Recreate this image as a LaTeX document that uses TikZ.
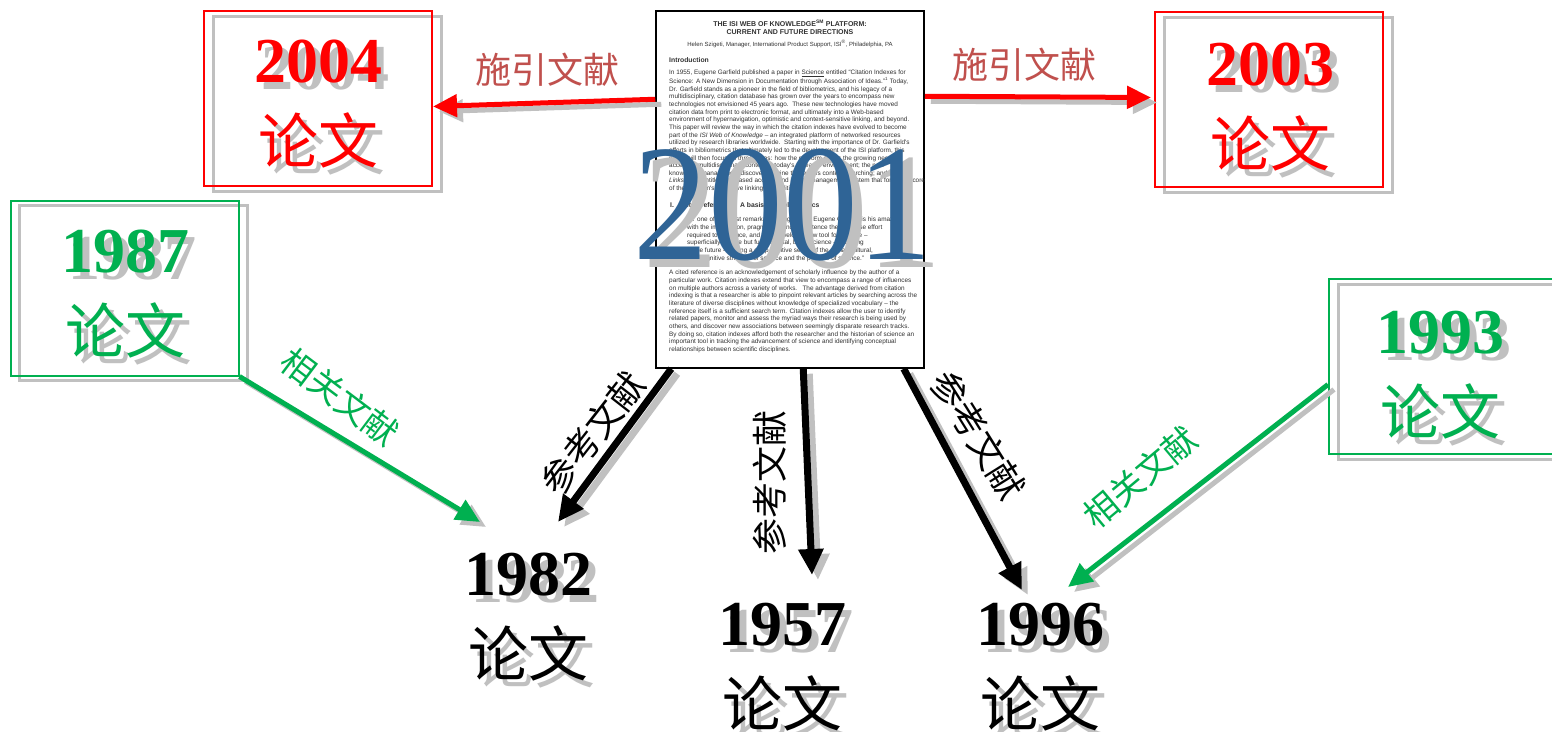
\documentclass[tikz,border=0pt]{standalone}
\usepackage{fontspec}
\setmainfont{Liberation Serif}
\newfontfamily\cjk{Noto Sans CJK SC}
\newfontfamily\docfont{Liberation Sans}
\usetikzlibrary{arrows.meta,calc}
\definecolor{paperred}{RGB}{255,0,0}
\definecolor{papergreen}{RGB}{0,176,80}
\definecolor{citered}{RGB}{192,80,77}
\definecolor{shadowgray}{RGB}{192,192,192}
\definecolor{yearblue}{RGB}{47,100,150}
\definecolor{docink}{RGB}{50,50,50}

\begin{document}
\begin{tikzpicture}[x=1pt, y=-1pt,
  paperbox/.style={draw, line width=2pt, minimum width=228pt, minimum height=175pt, inner sep=0pt},
  yearnum/.style={font=\fontsize{64}{64}\selectfont\bfseries, inner sep=0pt},
  paperword/.style={font=\cjk\fontsize{60}{60}\selectfont, inner sep=0pt},
  citelink/.style={line width=5pt, -{Triangle[length=24pt,width=22pt]}},
  refarrow/.style={line width=7pt, -{Triangle[length=26pt,width=24pt]}},
  dropped/.style={shadowgray, transform canvas={shift={(6pt,-5pt)}}},
  arrowtag/.style={font=\cjk\fontsize{36}{36}\selectfont, inner sep=0pt},
  doctext/.style={font=\docfont\fontsize{6.4}{7.65}\selectfont, docink, inner sep=0pt, align=left}]
\useasboundingbox (0,0) rectangle (1552,731);
\fill[white] (0,0) rectangle (1552,731);

% paper boxes
\foreach \n/\x/\y/\c in {2004/318/98.5/paperred, 2003/1269/99.5/paperred,
    1987/124.5/288/papergreen, 1993/1443/366.5/papergreen}{
  \node[paperbox, shadowgray, line width=3pt] (bs\n) at (\x+9,\y+5) {};
  \node[paperbox, \c] (b\n) at (\x,\y) {};
}

% years and words
\foreach \n/\x/\y/\c in {2004/318/62/paperred, 2003/1270/65/paperred,
    1987/125/252/papergreen, 1993/1440/333/papergreen,
    1982/528/575/black, 1957/782/625/black, 1996/1040/625/black}{
  \node[yearnum, shadowgray] (ys\n) at (\x+7,\y+7) {\n};
  \node[paperword, shadowgray] (ws\n) at (\x+7,\y+85) {论文};
  \node[yearnum, \c] (y\n) at (\x,\y) {\n};
  \node[paperword, \c] (w\n) at (\x,\y+78) {论文};
}

% the 2001 paper
\node[draw, line width=1.5pt, fill=white, minimum width=268pt, minimum height=357pt, inner sep=0pt] (doc) at (790,189.5) {};
\begin{scope}
\clip (doc.north west) rectangle (doc.south east);
\node[doctext, font=\docfont\bfseries\fontsize{7}{8.2}\selectfont, align=center] (doctitle) at (790,27)
  {THE ISI WEB OF KNOWLEDGE\textsuperscript{SM} PLATFORM:\\CURRENT AND FUTURE DIRECTIONS};
\node[doctext, align=center, font=\docfont\fontsize{6}{7}\selectfont] (docauthor) at (790,44)
  {Helen Szigeti, Manager, International Product Support, ISI\textsuperscript{®}, Philadelphia, PA};
\node[doctext, font=\docfont\bfseries\fontsize{6.8}{8}\selectfont, anchor=west] (docintro) at (669,60) {Introduction};
\node[doctext, anchor=north west] (docpara1) at (669,70)
  {In 1955, Eugene Garfield published a paper in \underline{Science} entitled “Citation Indexes for\\
  Science: A New Dimension in Documentation through Association of Ideas.”\textsuperscript{1} Today,\\
  Dr. Garfield stands as a pioneer in the field of bibliometrics, and his legacy of a\\
  multidisciplinary, citation database has grown over the years to encompass new\\
  technologies not envisioned 45 years ago.\ \ These new technologies have moved\\
  citation data from print to electronic format, and ultimately into a Web-based\\
  environment of hypernavigation, optimistic and context-sensitive linking, and beyond.\\
  This paper will review the way in which the citation indexes have evolved to become\\
  part of the \textit{ISI Web of Knowledge} – an integrated platform of networked resources\\
  utilized by research libraries worldwide.\ \ Starting with the importance of Dr. Garfield's\\
  efforts in bibliometrics that ultimately led to the development of the ISI platform, this\\
  paper will then focus on three areas: how the platform meets the growing need for\\
  access to multidisciplinary content in today's research environment; the new\\
  knowledge management discovery engine that allows content searching; and \textit{ISI}\\
  \textit{Links} – the entitlement-based access, and linking management system that forms the core\\
  of the platform's extensive linking capabilities.};
\node[doctext, font=\docfont\bfseries\fontsize{6.8}{8}\selectfont, anchor=west] (docsection) at (670,205)
  {I.\hspace{8pt}Cited references: A basis for bibliometrics};
\node[doctext, anchor=north west] (docquote) at (687,217)
  {“... one of the most remarkable things about Eugene Garfield is his amazing\\
  with the imagination, pragmatism and persistence the immense effort\\
  required to introduce, and then develop a new tool for science –\\
  superficially routine but fundamental, basic science – requiring\\
  of the future – having a deep intuitive sense of the social, cultural,\\
  and cognitive structure of science and the practice of science.”};
\node[doctext, anchor=north west] (docpara2) at (669,270)
  {A cited reference is an acknowledgement of scholarly influence by the author of a\\
  particular work. Citation indexes extend that view to encompass a range of influences\\
  on multiple authors across a variety of works.\ \ \ The advantage derived from citation\\
  indexing is that a researcher is able to pinpoint relevant articles by searching across the\\
  literature of diverse disciplines without knowledge of specialized vocabulary – the\\
  reference itself is a sufficient search term. Citation indexes allow the user to identify\\
  related papers, monitor and assess the myriad ways their research is being used by\\
  others, and discover new associations between seemingly disparate research tracks.\\
  By doing so, citation indexes afford both the researcher and the historian of science an\\
  important tool in tracking the advancement of science and identifying conceptual\\
  relationships between scientific disciplines.};
\end{scope}
\node[font=\fontsize{166}{166}\selectfont, xscale=0.9, inner sep=0pt, shadowgray] (years) at (793,213) {2001};
\node[font=\fontsize{166}{166}\selectfont, xscale=0.9, inner sep=0pt, yearblue] (year) at (783,205) {2001};

% arrow ends
\coordinate (docleft) at ($(doc.north west)+(0,89)$);
\coordinate (docright) at ($(doc.north east)+(0,86)$);
\coordinate (docfoot1) at ($(doc.south west)+(16,0)$);
\coordinate (docfoot2) at ($(doc.south west)+(148,0)$);
\coordinate (docfoot3) at ($(doc.south east)+(-21,0)$);
\coordinate (side1993) at ($(b1993.west)+(0,18)$);
\coordinate (to2004) at ($(b2004.east)+(0,8)$);
\coordinate (to2003) at ($(b2003.west)+(-3,-2)$);
\coordinate (to1982a) at ($(y1982)+(30,-53)$);
\coordinate (to1982b) at ($(y1982)+(-48,-53)$);
\coordinate (to1957) at ($(y1957)+(30,-50)$);
\coordinate (to1996a) at ($(y1996)+(-18,-35)$);
\coordinate (to1996b) at ($(y1996)+(28,-38)$);

% arrows
\foreach \a/\b/\s in {docleft/to2004/citelink, docright/to2003/citelink,
    docfoot1/to1982a/refarrow, docfoot2/to1957/refarrow, docfoot3/to1996a/refarrow,
    b1987.south east/to1982b/citelink, side1993/to1996b/citelink}
  \draw[\s, dropped] (\a) -- (\b);
\foreach \a/\b/\s/\c in {docleft/to2004/citelink/paperred, docright/to2003/citelink/paperred,
    docfoot1/to1982a/refarrow/black, docfoot2/to1957/refarrow/black, docfoot3/to1996a/refarrow/black,
    b1987.south east/to1982b/citelink/papergreen, side1993/to1996b/citelink/papergreen}
  \draw[\s, \c] (\a) -- (\b);

% arrow labels
\node[arrowtag, citered] (tag2004) at (547,70) {施引文献};
\node[arrowtag, citered] (tag2003) at (1024,65) {施引文献};
\node[arrowtag, rotate=52] (tag1982) at (593,433) {参考文献};
\node[arrowtag, rotate=90] (tag1957) at (770,482) {参考文献};
\node[arrowtag, rotate=-58] (tag1996) at (978,435) {参考文献};
\node[arrowtag, papergreen, font=\cjk\fontsize{34}{34}\selectfont, rotate=-37] (tag1987) at (340,397) {相关文献};
\node[arrowtag, papergreen, font=\cjk\fontsize{34}{34}\selectfont, rotate=40] (tag1993) at (1140,477) {相关文献};
\end{tikzpicture}
\end{document}
